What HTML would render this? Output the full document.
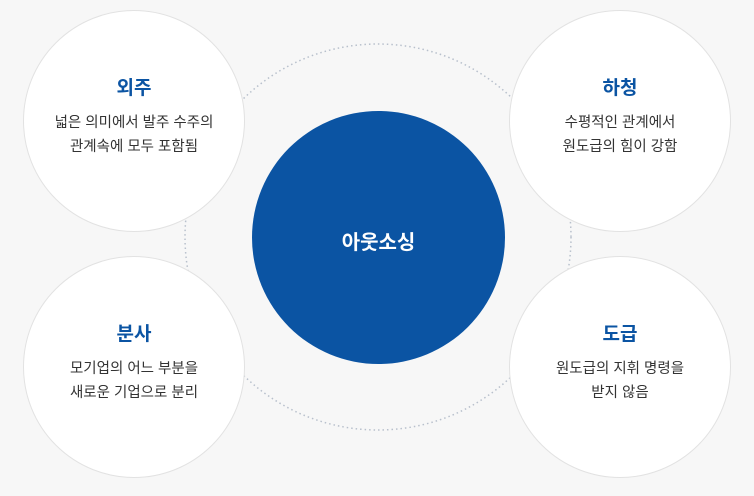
<!DOCTYPE html>
<html><head><meta charset="utf-8"><style>
html,body{margin:0;padding:0;background:#f7f7f7;}
body{width:754px;height:496px;position:relative;overflow:hidden;font-family:"Liberation Sans","Noto Sans CJK KR","NanumGothic",sans-serif;}
.c{position:absolute;width:222px;height:222px;border-radius:50%;background:#fff;border:1px solid #e2e2e2;box-sizing:border-box;text-align:center;}
.c h3{margin:0;position:absolute;left:0;right:0;top:65px;font-size:19px;font-weight:bold;color:#0b54a3;line-height:26px;}
.c p{margin:0;position:absolute;left:0;right:0;top:100px;font-size:14.5px;color:#333;line-height:24px;}
</style></head><body>
<svg width="754" height="496" style="position:absolute;left:0;top:0">
<circle cx="378" cy="237" r="193" fill="none" stroke="#b8c0cc" stroke-width="1.5" stroke-dasharray="1.5 3"/>
<circle cx="378.5" cy="237.5" r="126.5" fill="#0b54a3"/>
<text x="378.5" y="249" text-anchor="middle" fill="#fff" font-size="20" font-weight="bold" font-family="Liberation Sans, Noto Sans CJK KR, sans-serif">아웃소싱</text>
</svg>
<div class="c" style="left:23px;top:10px"><h3>외주</h3><p>넓은 의미에서 발주 수주의<br>관계속에 모두 포함됨</p></div>
<div class="c" style="left:509px;top:10px"><h3>하청</h3><p>수평적인 관계에서<br>원도급의 힘이 강함</p></div>
<div class="c" style="left:23px;top:256px"><h3>분사</h3><p>모기업의 어느 부분을<br>새로운 기업으로 분리</p></div>
<div class="c" style="left:509px;top:256px"><h3>도급</h3><p>원도급의 지휘 명령을<br>받지 않음</p></div>
</body></html>
